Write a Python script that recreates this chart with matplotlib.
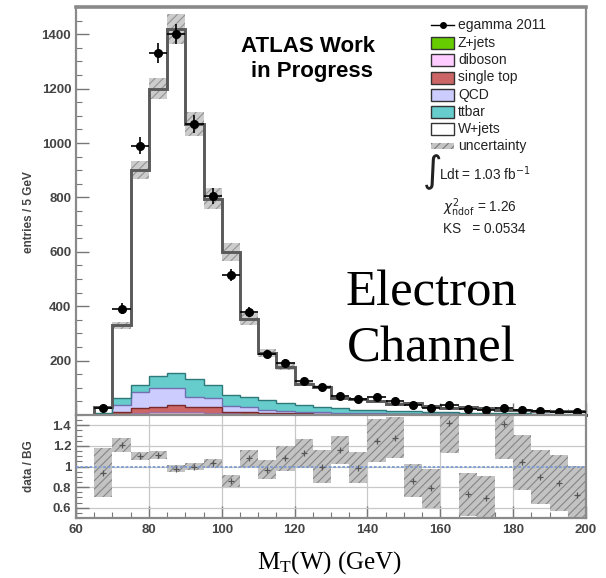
import numpy as np
import matplotlib
matplotlib.use("Agg")
import matplotlib.pyplot as plt
from matplotlib.patches import Rectangle
from matplotlib.ticker import MultipleLocator, FixedLocator

plt.rcParams['font.family'] = ['Liberation Sans', 'DejaVu Sans']
plt.rcParams['mathtext.fontset'] = 'custom'
plt.rcParams['mathtext.rm'] = 'Liberation Serif'
plt.rcParams['mathtext.it'] = 'Liberation Serif:italic'
plt.rcParams['hatch.linewidth'] = 0.8

# ---------------- data ----------------
bin_edges = np.arange(60, 205, 5)          # 28 bins of 5 GeV
data =      [0, 25, 390, 990, 1330, 1400, 1070, 805, 515, 378, 224, 192, 125, 102,
             70, 58, 65, 51, 38, 25, 37, 21, 18, 27, 18, 15, 12, 10]
data_err =  [0, 5, 20, 31, 36, 37, 33, 28, 23, 19, 15, 14, 11, 10,
             8, 8, 8, 7, 6, 5, 6, 5, 4, 5, 4, 4, 3, 3]

zjets =     [0, 1, 2, 4, 5, 5, 4, 4, 3, 2, 2, 2, 1, 1, 1, 1, 1, 1, 1, 1, 1, 0, 0, 0, 0, 0, 0, 0]
diboson =   [0, 0, 2, 4, 5, 7, 6, 5, 3, 3, 2, 2, 2, 2, 1, 1, 1, 1, 1, 1, 1, 1, 1, 1, 0, 0, 0, 0]
singletop = [0, 0, 6, 19, 20, 26, 20, 19, 6, 5, 4, 3, 3, 2, 2, 2, 2, 1, 1, 1, 1, 1, 1, 1, 1, 1, 0, 0]
qcd =       [0, 4, 27, 59, 68, 60, 37, 33, 21, 18, 12, 8, 6, 5, 4, 3, 2, 2, 2, 1, 1, 1, 1, 1, 1, 1, 1, 1]
ttbar =     [0, 2, 24, 24, 45, 55, 64, 49, 40, 37, 36, 28, 25, 21, 16, 13, 12, 11, 9, 8, 6, 6, 5, 4, 4, 3, 4, 3]
wjets =     [0, 23, 269, 790, 1057, 1267, 939, 685, 527, 287, 172, 135, 78, 71,
             38, 39, 34, 26, 30, 20, 16, 19, 18, 12, 11, 11, 9, 9]
mc_unc =    [0, 3, 12, 33, 40, 55, 43, 38, 34, 22, 14, 12, 8, 7, 5, 5, 4, 4, 4, 3, 3, 3, 3, 2, 2, 2, 2, 2]

ratio =     [np.nan, 0.94, 1.21, 1.10, 1.11, 0.98, 1.00, 1.03, 0.86, 1.08, 0.97, 1.08, 1.13, 1.00,
             1.16, 0.99, 1.25, 1.28, 0.86, 0.79, 1.42, 0.73, 0.69, 1.41, 1.04, 0.90, 0.84, 0.72]
ratio_err = [0, 0.24, 0.07, 0.04, 0.04, 0.03, 0.03, 0.04, 0.06, 0.08, 0.09, 0.12, 0.14, 0.16,
             0.14, 0.15, 0.21, 0.20, 0.16, 0.19, 0.29, 0.21, 0.22, 0.34, 0.27, 0.26, 0.27, 0.28]

legend_labels = ['egamma 2011', 'Z+jets', 'diboson', 'single top', 'QCD', 'ttbar', 'W+jets', 'uncertainty']

# ---------------- figure ----------------
W, H = 606, 578
fig = plt.figure(figsize=(W / 100, H / 100), dpi=100)
L, R = 76, 586
ax1 = fig.add_axes([L / W, 1 - 415 / H, (R - L) / W, (415 - 7) / H])
ax2 = fig.add_axes([L / W, 1 - 518 / H, (R - L) / W, (518 - 415) / H])

edges = bin_edges
centers = edges[:-1] + 2.5

layers = [
    (zjets, '#66cc00', '#2f6a00'),
    (diboson, '#ffccff', '#a070a0'),
    (singletop, '#cc6666', '#7a2a2a'),
    (qcd, '#ccccff', '#7070b0'),
    (ttbar, '#66cccc', '#2e7a7a'),
    (wjets, '#ffffff', '#555555'),
]
base = np.zeros(len(centers))
for vals, fc, ec in layers:
    v = np.asarray(vals, float)
    ax1.stairs(base + v, edges, baseline=base.copy(), fill=True, facecolor=fc,
               edgecolor='none', zorder=2)
    ax1.stairs(base + v, edges, baseline=None, color=ec, lw=1.0, zorder=3)
    base = base + v
total = base

# uncertainty band
unc = np.asarray(mc_unc, float)
ax1.bar(centers, 2 * unc, bottom=total - unc, width=5, color='#c4c4c4', alpha=0.85,
        hatch='////', edgecolor='#8a8a8a', linewidth=0, zorder=4)
# MC total outline
ax1.stairs(total, edges, baseline=0, color='#5a5a5a', lw=2.1, zorder=5)

d = np.asarray(data, float)
de = np.asarray(data_err, float)
m = d > 0
ax1.errorbar(centers[m], d[m], yerr=de[m], xerr=2.5, fmt='o', color='black', ms=5.5,
             elinewidth=1.2, capsize=0, zorder=6)

ax1.set_xlim(60, 200)
ax1.set_ylim(0, 1500)
ax1.yaxis.set_major_locator(FixedLocator([200, 400, 600, 800, 1000, 1200, 1400]))
ax1.yaxis.set_minor_locator(MultipleLocator(50))
ax1.xaxis.set_major_locator(MultipleLocator(20))
ax1.xaxis.set_minor_locator(MultipleLocator(5))
ax1.tick_params(axis='x', labelbottom=False)

for ax in (ax1, ax2):
    ax.tick_params(which='both', direction='in', color='#777777', top=False, right=False)
    ax.tick_params(which='major', length=9, width=1.0)
    ax.tick_params(which='minor', length=4.5, width=0.8)
    for s in ax.spines.values():
        s.set_color('#8a8a8a')
        s.set_linewidth(1.6)
    for lab in ax.get_yticklabels() + ax.get_xticklabels():
        lab.set_fontsize(9.5)
        lab.set_fontweight('bold')
        lab.set_color('#444444')
ax1.spines['top'].set_linewidth(2.6)
ax1.spines['bottom'].set_color('#222222')
ax1.spines['bottom'].set_linewidth(2.0)

# ---------------- ratio ----------------
r = np.asarray(ratio, float)
re = np.asarray(ratio_err, float)
mr = ~np.isnan(r)
ax2.grid(True, which='major', color='#c8c8c8', lw=0.9, zorder=0)
ax2.bar(centers[mr], 2 * re[mr], bottom=r[mr] - re[mr], width=5, color='#bdbdbd',
        hatch='////', edgecolor='#7f7f7f', linewidth=0, zorder=2, alpha=0.9)
ax2.axhline(1.0, color='#7d9bd0', lw=1.3, ls=(0, (1.5, 1)), zorder=3)
ax2.plot(centers[mr], r[mr], '+', color='#555555', ms=5, mew=0.9, zorder=4)
ax2.set_xlim(60, 200)
ax2.set_ylim(0.5, 1.5)
ax2.yaxis.set_major_locator(FixedLocator([0.6, 0.8, 1.0, 1.2, 1.4]))
ax2.yaxis.set_minor_locator(MultipleLocator(0.05))
ax2.set_yticklabels(['0.6', '0.8', '1', '1.2', '1.4'])
ax2.xaxis.set_major_locator(MultipleLocator(20))
ax2.xaxis.set_minor_locator(MultipleLocator(5))
ax2.tick_params(axis='x', pad=4)
for lab in ax2.get_yticklabels() + ax2.get_xticklabels():
    lab.set_fontsize(9.5)
    lab.set_fontweight('bold')
    lab.set_color('#444444')

# ---------------- texts ----------------
fig.text(29 / W, 1 - 212 / H, 'entries / 5 GeV', rotation=90, ha='center', va='center',
         fontsize=8.5, fontweight='bold', color='#444444')
fig.text(29 / W, 1 - 466 / H, 'data / BG', rotation=90, ha='center', va='center',
         fontsize=8.5, fontweight='bold', color='#444444')

fig.text(308 / W, 1 - 47 / H, 'ATLAS Work', ha='center', va='center',
         fontsize=16, fontweight='bold', color='black')
fig.text(312 / W, 1 - 71 / H, 'in Progress', ha='center', va='center',
         fontsize=16, fontweight='bold', color='black')

fig.text(431 / W, 1 - 293 / H, 'Electron', ha='center', va='center',
         fontsize=36.5, family='Liberation Serif', color='black')
fig.text(431 / W, 1 - 349 / H, 'Channel', ha='center', va='center',
         fontsize=36.5, family='Liberation Serif', color='black')

fig.text(330 / W, 1 - 563 / H, r'M$_{\mathrm{T}}$(W) (GeV)', ha='center', va='center',
         fontsize=18, family='Liberation Serif', color='black')

# ---------------- legend ----------------
leg_y = [25, 42.5, 60, 77.5, 95, 112, 129, 146]
sw_x0, sw_x1, tx = 431, 454, 458
swatches = [None, layers[0], layers[1], layers[2], layers[3], layers[4], layers[5], 'unc']
for y, lab, sw in zip(leg_y, legend_labels, swatches):
    fy = 1 - y / H
    if sw is None:
        fig.add_artist(plt.Line2D([sw_x0 / W, sw_x1 / W], [fy, fy], color='black', lw=1.0))
        fig.add_artist(plt.Line2D([(sw_x0 + sw_x1) / 2 / W], [fy], marker='o', ms=4, color='black'))
    elif sw == 'unc':
        fig.add_artist(Rectangle((sw_x0 / W, fy - 3 / H), (sw_x1 - sw_x0) / W, 6 / H,
                                 transform=fig.transFigure, facecolor='#c4c4c4',
                                 hatch='////', edgecolor='#7a7a7a', lw=0))
    else:
        _, fc, ec = sw
        fig.add_artist(Rectangle((sw_x0 / W, fy - 6 / H), (sw_x1 - sw_x0) / W, 12 / H,
                                 transform=fig.transFigure, facecolor=fc, edgecolor='#333333',
                                 lw=1.0))
    fig.text(tx / W, fy, lab, ha='left', va='center', fontsize=10, color='#222222')

fig.text(432 / W, 1 - 172 / H, r'$\int$', ha='center', va='center', fontsize=19,
         color='#222222', math_fontfamily='dejavusans')
fig.text(439 / W, 1 - 174 / H, r'Ldt = 1.03 fb$^{-1}$', ha='left', va='center',
         fontsize=9.8, color='#222222', math_fontfamily='dejavusans')
fig.text(443 / W, 1 - 208 / H, r'$\chi^2_{\mathrm{ndof}}$ = 1.26', ha='left', va='center',
         fontsize=9.8, color='#222222', math_fontfamily='dejavusans')
fig.text(443 / W, 1 - 229 / H, 'KS   = 0.0534', ha='left', va='center',
         fontsize=9.8, color='#222222')

fig.savefig('out.png', dpi=100)
